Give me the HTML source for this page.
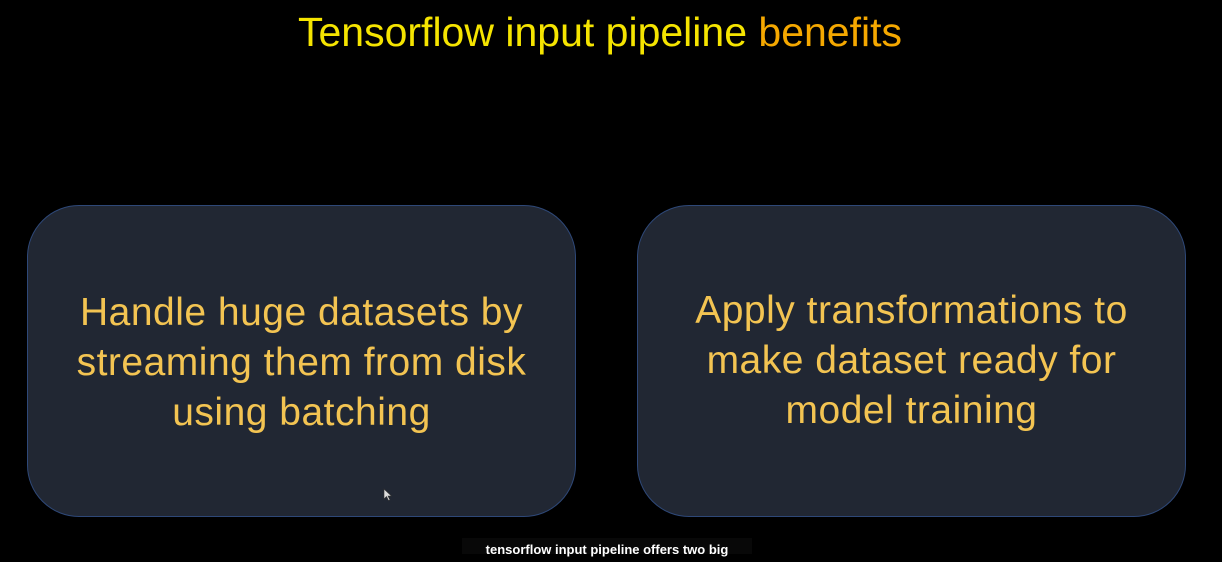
<!DOCTYPE html>
<html><head><style>
html,body{margin:0;padding:0;background:#000;width:1222px;height:551px;overflow:hidden;font-family:"Liberation Sans",sans-serif;}
.title{position:absolute;left:0;width:1200px;top:9px;text-align:center;font-size:41px;color:#f5e400;letter-spacing:0px;}
.title span{color:#f5a800;}
.box{position:absolute;top:205px;width:549px;height:312px;background:#212733;border:1.5px solid #2e4878;border-radius:52px;box-sizing:border-box;display:flex;align-items:center;justify-content:center;text-align:center;color:#f3c452;font-size:39px;line-height:50px;letter-spacing:0.5px;}
.cap{position:absolute;left:462px;top:538px;width:290px;height:16px;background:#080808;color:#fff;font-size:13px;font-weight:bold;text-align:center;line-height:24px;}
</style></head><body>
<div class="title">Tensorflow input pipeline <span>benefits</span></div>
<div class="box" style="left:27px;padding-top:4px">Handle huge datasets by<br>streaming them from disk<br>using batching</div>
<div class="box" style="left:637px;padding-top:0">Apply transformations to<br>make dataset ready for<br>model training</div>
<svg style="position:absolute;left:383px;top:488px" width="10" height="14"><path d="M1 1 L1 11 L3.5 8.5 L5.5 12.5 L7 12 L5 8 L8.5 8 Z" fill="#ddd" stroke="#333" stroke-width="0.6"/></svg>
<div class="cap">tensorflow input pipeline offers two big</div>
</body></html>
